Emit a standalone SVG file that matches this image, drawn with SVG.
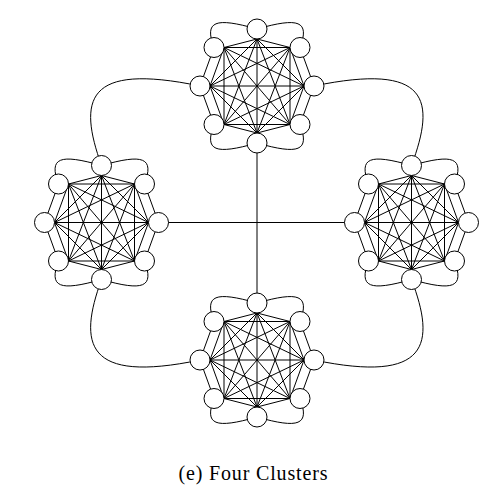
<svg xmlns="http://www.w3.org/2000/svg" xmlns:xlink="http://www.w3.org/1999/xlink" width="492" height="492" viewBox="0 0 492 492">
<style>
.e{fill:none;stroke:#000;stroke-width:1}
.n{fill:#fff;stroke:#000;stroke-width:1}
.cap{font-family:"Liberation Serif","DejaVu Serif",serif;font-size:20px;fill:#000}
</style>
<defs>
<path id="cl" class="e" d="M0,-47L33,-38.5M0,-47L47,0M0,-47L33,38.5M0,-47L0,47M0,-47L-33,38.5M0,-47L-47,0M0,-47L-33,-38.5
M33,-38.5L47,0M33,-38.5L33,38.5M33,-38.5L0,47M33,-38.5L-33,38.5M33,-38.5L-47,0M33,-38.5L-33,-38.5
M47,0L33,38.5M47,0L0,47M47,0L-33,38.5M47,0L-47,0M47,0L-33,-38.5
M33,38.5L0,47M33,38.5L-33,38.5M33,38.5L-47,0M33,38.5L-33,-38.5
M0,47L-33,38.5M0,47L-47,0M0,47L-33,-38.5
M-33,38.5L-47,0M-33,38.5L-33,-38.5
M-47,0L-33,-38.5
M-43,-38.5L-57,0L-43,38.5M43,-38.5L57,0L43,38.5
M0,-57C-42,-69 -53,-65 -43,-38.5M0,-57C42,-69 53,-65 43,-38.5
M0,57C-42,69 -53,65 -43,38.5M0,57C42,69 53,65 43,38.5"/>
<g id="nodes8">
<circle class="n" cx="0" cy="-57" r="10"/>
<circle class="n" cx="43" cy="-38.5" r="10"/>
<circle class="n" cx="57" cy="0" r="10"/>
<circle class="n" cx="43" cy="38.5" r="10"/>
<circle class="n" cx="0" cy="57" r="10"/>
<circle class="n" cx="-43" cy="38.5" r="10"/>
<circle class="n" cx="-57" cy="0" r="10"/>
<circle class="n" cx="-43" cy="-38.5" r="10"/>
</g>
</defs>
<rect width="492" height="492" fill="#fff"/>
<g id="connectors">
<use xlink:href="#cl" href="#cl" transform="translate(257,86)"/>
<use xlink:href="#cl" href="#cl" transform="translate(101.5,222.5)"/>
<use xlink:href="#cl" href="#cl" transform="translate(411.5,222.5)"/>
<use xlink:href="#cl" href="#cl" transform="translate(257,360)"/>
<path class="e" d="M200,86C85,62 78,100 101.5,165.5"/>
<path class="e" d="M314,86C429,62 436,100 411.5,165.5"/>
<path class="e" d="M101.5,279.5C78,344 85,384 200,360"/>
<path class="e" d="M411.5,279.5C436,344 429,384 314,360"/>
<path class="e" d="M257,143V303"/>
<path class="e" d="M158.5,222.5H354.5"/>
</g>
<g id="cluster-top"><use xlink:href="#nodes8" href="#nodes8" transform="translate(257,86)"/></g>
<g id="cluster-left"><use xlink:href="#nodes8" href="#nodes8" transform="translate(101.5,222.5)"/></g>
<g id="cluster-right"><use xlink:href="#nodes8" href="#nodes8" transform="translate(411.5,222.5)"/></g>
<g id="cluster-bottom"><use xlink:href="#nodes8" href="#nodes8" transform="translate(257,360)"/></g>
<text class="cap" x="253" y="480" text-anchor="middle" textLength="149" lengthAdjust="spacing">(e) Four Clusters</text>
</svg>
